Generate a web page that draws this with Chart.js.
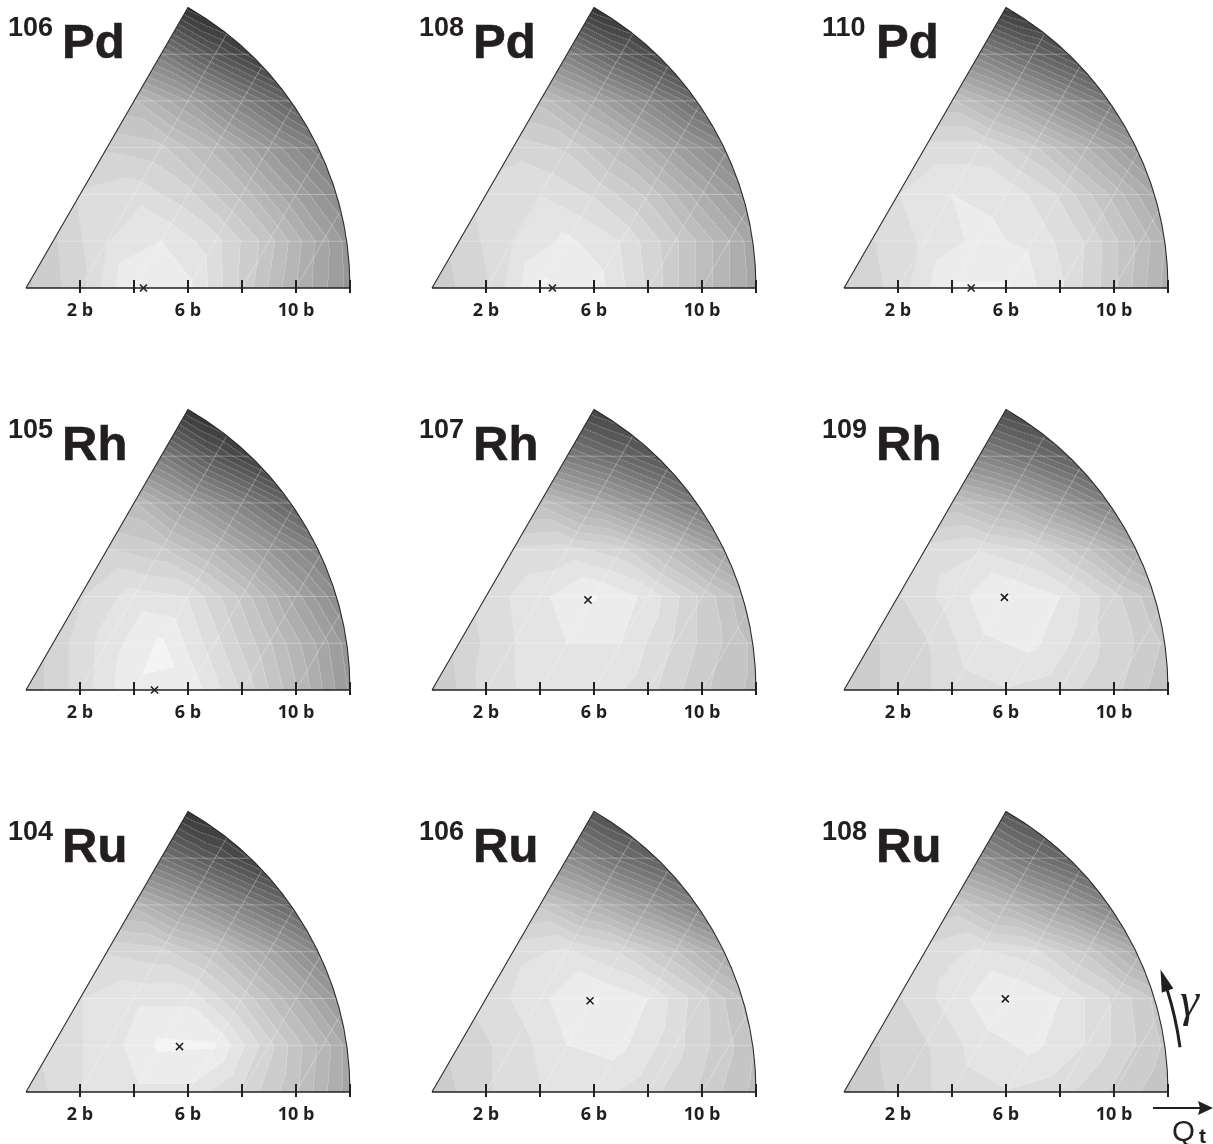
<!DOCTYPE html>
<html><head><meta charset="utf-8">
<script src="https://cdn.jsdelivr.net/npm/chart.js@4.4.1/dist/chart.umd.min.js"></script>
<style>
html,body{margin:0;padding:0;background:#fff;}
#stage{position:relative;width:1213px;height:1144px;overflow:hidden;background:#fff;}
#stage canvas{position:absolute;}
.mass{position:absolute;font-family:'Liberation Sans',Arial,sans-serif;font-weight:bold;font-size:27px;line-height:1;color:#231f20;white-space:nowrap;}
.elem{position:absolute;font-family:'Liberation Sans',Arial,sans-serif;font-weight:bold;font-size:49px;line-height:1;color:#231f20;white-space:nowrap;-webkit-text-stroke:0.6px #231f20;}
svg{position:absolute;left:0;top:0;}
</style></head><body><div id="stage"></div>
<script>
// ---------------- data ----------------
const massNumbers = ['106','108','110','105','107','109','104','106','108'];
const elements    = ['Pd','Pd','Pd','Rh','Rh','Rh','Ru','Ru','Ru'];
// position of the minimum (x mark): Q_t in barn, gamma in degrees
const minQt    = [4.35, 4.46, 4.71, 4.76, 6.67, 6.86, 5.93, 6.76, 6.90];
const minGamma = [0, 0, 0, 0, 30, 30, 16.5, 30, 30];
const tickValues = [2, 4, 6, 8, 10, 12];
const tickLabels = ['2 b', '', '6 b', '', '10 b', ''];

// energy (MeV above the minimum) on the triangular mesh (2 b spacing);
// row j holds nodes at y = j*sqrt(3) b, x = j, j+2, j+4, ... b
const pd106 = [
  [3.13, 2.20, 0.40, 0.85, 2.60, 4.47, 6.20],
  [2.60, 1.53, 1.00, 1.80, 3.27, 5.27, 7.30],
  [1.93, 1.67, 2.33, 3.67, 5.53, 7.40],
  [2.60, 2.87, 4.20, 6.07, 7.93],
  [3.93, 5.53, 7.67, 9.80],
  [7.93, 10.33, 12.47],
  [12.73, 14.33]
];
const pd108 = [
  [2.87, 2.07, 0.40, 0.70, 2.07, 3.67, 5.27],
  [2.33, 1.53, 0.87, 1.53, 2.87, 4.47, 6.33],
  [1.80, 1.53, 2.07, 3.13, 4.87, 6.60],
  [2.20, 2.60, 3.93, 5.67, 7.40],
  [3.67, 5.27, 7.13, 9.27],
  [7.67, 9.80, 11.93],
  [12.47, 13.80]
];
const pd110 = [
  [2.60, 1.80, 0.45, 0.45, 1.40, 2.87, 4.73],
  [2.07, 1.40, 0.87, 1.13, 2.07, 3.67, 5.53],
  [1.53, 1.00, 1.13, 2.07, 3.67, 5.53],
  [1.80, 1.80, 2.87, 4.47, 6.33],
  [3.40, 4.87, 6.60, 8.47],
  [7.40, 9.27, 11.13],
  [12.20, 13.27]
];
const rh105 = [
  [2.87, 1.80, 0.55, 0.60, 2.07, 3.93, 6.07],
  [2.33, 1.27, 0.40, 1.80, 3.40, 5.27, 7.40],
  [2.07, 1.27, 1.53, 3.13, 5.27, 7.40],
  [2.47, 2.87, 4.20, 6.07, 7.93],
  [3.93, 5.80, 7.67, 9.80],
  [7.93, 10.33, 12.47],
  [12.47, 14.07]
];
const rh107 = [
  [3.13, 1.80, 1.27, 1.13, 1.80, 2.87, 3.67],
  [2.33, 1.53, 1.00, 1.00, 2.07, 3.13, 4.20],
  [1.80, 1.13, 0.45, 1.13, 2.60, 4.20],
  [1.93, 1.80, 2.33, 3.93, 5.80],
  [3.67, 5.00, 6.60, 8.47],
  [7.93, 9.27, 10.87],
  [11.40, 12.47]
];
const rh109 = [
  [2.87, 2.33, 1.80, 1.53, 1.80, 2.33, 3.40],
  [2.60, 2.07, 1.13, 0.87, 1.80, 2.60, 3.67],
  [2.07, 1.27, 0.45, 1.00, 2.33, 3.67],
  [1.80, 1.53, 2.07, 3.40, 5.27],
  [3.40, 4.47, 6.07, 7.93],
  [7.40, 8.73, 10.33],
  [11.13, 12.20]
];
const ru104 = [
  [2.33, 1.53, 1.13, 1.13, 2.07, 3.40, 5.27],
  [1.80, 1.27, 0.40, 0.45, 2.33, 4.20, 6.33],
  [1.53, 1.13, 1.13, 2.60, 4.47, 6.60],
  [2.07, 2.33, 3.40, 5.27, 7.40],
  [4.20, 5.80, 7.67, 9.53],
  [8.47, 10.33, 12.20],
  [12.47, 13.53]
];
const ru106 = [
  [2.87, 2.07, 1.53, 1.27, 1.80, 2.60, 3.67],
  [2.33, 1.80, 1.00, 0.87, 1.80, 2.87, 4.20],
  [1.80, 1.13, 0.45, 1.00, 2.33, 3.93],
  [1.67, 1.40, 2.07, 3.40, 5.27],
  [3.13, 4.47, 6.07, 7.93],
  [6.87, 8.73, 10.33],
  [10.60, 11.93]
];
const ru108 = [
  [3.13, 2.33, 1.80, 1.53, 1.80, 2.60, 3.40],
  [2.60, 2.07, 1.27, 0.87, 1.53, 2.60, 3.67],
  [2.07, 1.27, 0.45, 1.00, 2.07, 3.40],
  [1.80, 1.40, 1.80, 3.13, 5.00],
  [2.87, 4.20, 5.80, 7.67],
  [6.60, 8.47, 10.07],
  [10.33, 11.67]
];
const surfaces = [pd106, pd108, pd110, rh105, rh107, rh109, ru104, ru106, ru108];

// ---------------- layout / style ----------------
const COL_X = [26, 432, 844];      // pixel of Q_t = 0
const ROW_Y = [288, 690, 1092];    // baseline pixel
const TITLE_X = [8, 419, 822];
const PX_PER_B = 27;
const Q_MAX = 12;
const SQ3 = Math.sqrt(3);
const MESH = 2;
const LEVEL_STEP = 0.5;
const GRAY_TOP = 244, GRAY_STEP = 7.8, GRAY_MIN = 26;
const INK = '#231f20';

const CAN_L = 40, CAN_R = 16, CAN_TOP = 300, AXIS_H = 40, PAD_B = 10;
const AREA_W = Q_MAX * PX_PER_B;           // 324
const AREA_H = 281;
const Y_MAX = AREA_H / PX_PER_B;

function interp(rows, x, y) {
  const jf = y / (MESH * SQ3 / 2);
  const ifl = (x / MESH) - jf / 2;
  let j0 = Math.floor(jf), i0 = Math.floor(ifl);
  if (j0 > rows.length - 2) j0 = rows.length - 2;
  if (j0 < 0) j0 = 0;
  if (i0 < 0) i0 = 0;
  const c = jf - j0, a = ifl - i0;
  const get = (i, j) => { const r = rows[j]; return r[Math.max(0, Math.min(i, r.length - 1))]; };
  if (a + c <= 1) return (1 - a - c) * get(i0, j0) + a * get(i0 + 1, j0) + c * get(i0, j0 + 1);
  return (a + c - 1) * get(i0 + 1, j0 + 1) + (1 - a) * get(i0, j0 + 1) + (1 - c) * get(i0 + 1, j0);
}

function makeSurfacePlugin(rows) {
  return {
    id: 'surface',
    beforeDatasetsDraw(chart) {
      const ctx = chart.ctx, xs = chart.scales.x, ys = chart.scales.y;
      const px0 = Math.floor(xs.getPixelForValue(0)) - 1;
      const px1 = Math.ceil(xs.getPixelForValue(Q_MAX)) + 1;
      const py0 = Math.floor(ys.getPixelForValue(Q_MAX * SQ3 / 2)) - 1;
      const py1 = Math.ceil(ys.getPixelForValue(0)) + 1;
      const W = px1 - px0, H = py1 - py0;
      const xv = new Float64Array(W), yv = new Float64Array(H);
      for (let i = 0; i < W; i++) xv[i] = xs.getValueForPixel(px0 + i + 0.5);
      for (let j = 0; j < H; j++) yv[j] = ys.getValueForPixel(py0 + j + 0.5);
      const band = new Int16Array(W * H).fill(-1);
      for (let j = 0; j < H; j++) {
        for (let i = 0; i < W; i++) {
          const x = xv[i], y = yv[j];
          if (y < 0 || x * x + y * y > Q_MAX * Q_MAX || y > SQ3 * x) continue;
          band[j * W + i] = Math.max(0, Math.floor(interp(rows, x, y) / LEVEL_STEP));
        }
      }
      const off = document.createElement('canvas');
      off.width = W; off.height = H;
      const octx = off.getContext('2d');
      const img = octx.createImageData(W, H);
      const d = img.data;
      for (let j = 0; j < H; j++) {
        for (let i = 0; i < W; i++) {
          const idx = j * W + i, k = band[idx];
          if (k < 0) continue;
          let g = Math.max(GRAY_MIN, GRAY_TOP - GRAY_STEP * k);
          const r = i + 1 < W ? band[idx + 1] : -1;
          const b = j + 1 < H ? band[idx + W] : -1;
          if ((r >= 0 && r !== k) || (b >= 0 && b !== k)) g = g + (255 - g) * 0.15;
          const v = Math.round(g);
          d[4 * idx] = v; d[4 * idx + 1] = v; d[4 * idx + 2] = v; d[4 * idx + 3] = 255;
        }
      }
      octx.putImageData(img, 0, 0);
      ctx.save();
      ctx.drawImage(off, px0, py0);

      // faint mesh lines
      ctx.strokeStyle = 'rgba(255,255,255,0.30)';
      ctx.lineWidth = 1;
      ctx.beginPath();
      for (let j = 1; j * MESH * SQ3 / 2 < Q_MAX * SQ3 / 2 - 0.01; j++) {
        const y = j * MESH * SQ3 / 2;
        ctx.moveTo(xs.getPixelForValue(y / SQ3), ys.getPixelForValue(y));
        ctx.lineTo(xs.getPixelForValue(Math.sqrt(Q_MAX * Q_MAX - y * y)), ys.getPixelForValue(y));
      }
      for (let k = 1; k * MESH < Q_MAX; k++) {
        const x0 = k * MESH;
        const t = (-x0 + Math.sqrt(4 * Q_MAX * Q_MAX - 3 * x0 * x0)) / 2;
        ctx.moveTo(xs.getPixelForValue(x0), ys.getPixelForValue(0));
        ctx.lineTo(xs.getPixelForValue(x0 + t / 2), ys.getPixelForValue(t * SQ3 / 2));
      }
      ctx.stroke();

      // wedge outline (gamma = 60 deg edge and Q_t = 12 b arc)
      const ox = xs.getPixelForValue(0), oy = ys.getPixelForValue(0);
      const R = xs.getPixelForValue(Q_MAX) - ox;
      ctx.strokeStyle = '#2b2b2b';
      ctx.lineWidth = 1.1;
      ctx.beginPath();
      ctx.moveTo(ox, oy);
      ctx.lineTo(xs.getPixelForValue(Q_MAX / 2), ys.getPixelForValue(Q_MAX * SQ3 / 2));
      ctx.arc(ox, oy, R, -Math.PI / 3, 0, false);
      ctx.stroke();

      // baseline and tick marks
      ctx.strokeStyle = INK;
      ctx.lineWidth = 1.5;
      ctx.beginPath();
      ctx.moveTo(ox, oy);
      ctx.lineTo(xs.getPixelForValue(Q_MAX), oy);
      ctx.stroke();
      ctx.lineWidth = 2;
      ctx.beginPath();
      xs.ticks.forEach(t => {
        const px = xs.getPixelForValue(t.value);
        ctx.moveTo(px, oy - 8);
        ctx.lineTo(px, oy + 5);
      });
      ctx.stroke();
      ctx.restore();
    }
  };
}

const stage = document.getElementById('stage');

surfaces.forEach((rows, p) => {
  const c = p % 3, r = Math.floor(p / 3);
  const canvas = document.createElement('canvas');
  const cw = CAN_L + AREA_W + CAN_R, ch = CAN_TOP + AXIS_H + PAD_B;
  canvas.width = cw; canvas.height = ch;
  canvas.style.left = (COL_X[c] - CAN_L) + 'px';
  canvas.style.top = (ROW_Y[r] - CAN_TOP) + 'px';
  canvas.style.width = cw + 'px'; canvas.style.height = ch + 'px';
  stage.appendChild(canvas);

  const g = minGamma[p] * Math.PI / 180;
  new Chart(canvas, {
    type: 'scatter',
    data: {
      datasets: [{
        data: [{ x: minQt[p] * Math.cos(g), y: minQt[p] * Math.sin(g) }],
        pointStyle: 'crossRot',
        pointRadius: 5,
        borderColor: INK,
        backgroundColor: INK,
        borderWidth: 1.6,
        clip: false
      }]
    },
    options: {
      responsive: false,
      maintainAspectRatio: false,
      devicePixelRatio: 1,
      animation: false,
      events: [],
      layout: { padding: { left: CAN_L, right: CAN_R, top: CAN_TOP - AREA_H, bottom: PAD_B } },
      plugins: { legend: { display: false }, tooltip: { enabled: false }, title: { display: false } },
      scales: {
        x: {
          type: 'linear', min: 0, max: Q_MAX,
          afterBuildTicks: axis => { axis.ticks = tickValues.map(v => ({ value: v })); },
          afterFit: axis => { axis.height = AXIS_H; },
          grid: { display: false, drawTicks: false },
          border: { display: false },
          ticks: {
            autoSkip: false, maxRotation: 0, minRotation: 0, padding: 12,
            color: INK,
            font: { family: "'Open Sans', 'DejaVu Sans', sans-serif", weight: 'bold', size: 18 },
            callback: v => { const i = tickValues.indexOf(v); return i >= 0 ? tickLabels[i] : ''; }
          }
        },
        y: { type: 'linear', min: 0, max: Y_MAX, display: false }
      }
    },
    plugins: [makeSurfacePlugin(rows)]
  });

  const m = document.createElement('div');
  m.className = 'mass';
  m.textContent = massNumbers[p];
  m.style.left = TITLE_X[c] + 'px';
  m.style.top = (ROW_Y[r] - 274) + 'px';
  stage.appendChild(m);
  const e = document.createElement('div');
  e.className = 'elem';
  e.textContent = elements[p];
  e.style.left = (TITLE_X[c] + 54) + 'px';
  e.style.top = (ROW_Y[r] - 271.5) + 'px';
  stage.appendChild(e);
});

// axis-direction annotation (bottom right)
const svgNS = 'http://www.w3.org/2000/svg';
const svg = document.createElementNS(svgNS, 'svg');
svg.setAttribute('width', '1213'); svg.setAttribute('height', '1144');
svg.innerHTML =
  '<path d="M 1180.0 1047.3 A 339 339 0 0 0 1167.3 990.1" fill="none" stroke="' + INK + '" stroke-width="3"/>' +
  '<polygon points="1160.5,969.5 1173.4,988.4 1161.8,992.8" fill="' + INK + '"/>' +
  '<text x="1180" y="1016" font-family="Liberation Serif, serif" font-style="italic" font-size="48" fill="' + INK + '">γ</text>' +
  '<line x1="1153" y1="1108" x2="1202" y2="1108" stroke="' + INK + '" stroke-width="2"/>' +
  '<polygon points="1213,1108 1198,1101 1200,1108 1198,1115" fill="' + INK + '"/>' +
  '<text x="1172" y="1141" font-family="Liberation Sans, Arial, sans-serif" font-size="29.5" fill="' + INK + '">Q</text>' +
  '<text x="1199" y="1143" font-family="Liberation Sans, Arial, sans-serif" font-weight="bold" font-size="21" fill="' + INK + '">t</text>';
stage.appendChild(svg);
</script>
</body></html>
